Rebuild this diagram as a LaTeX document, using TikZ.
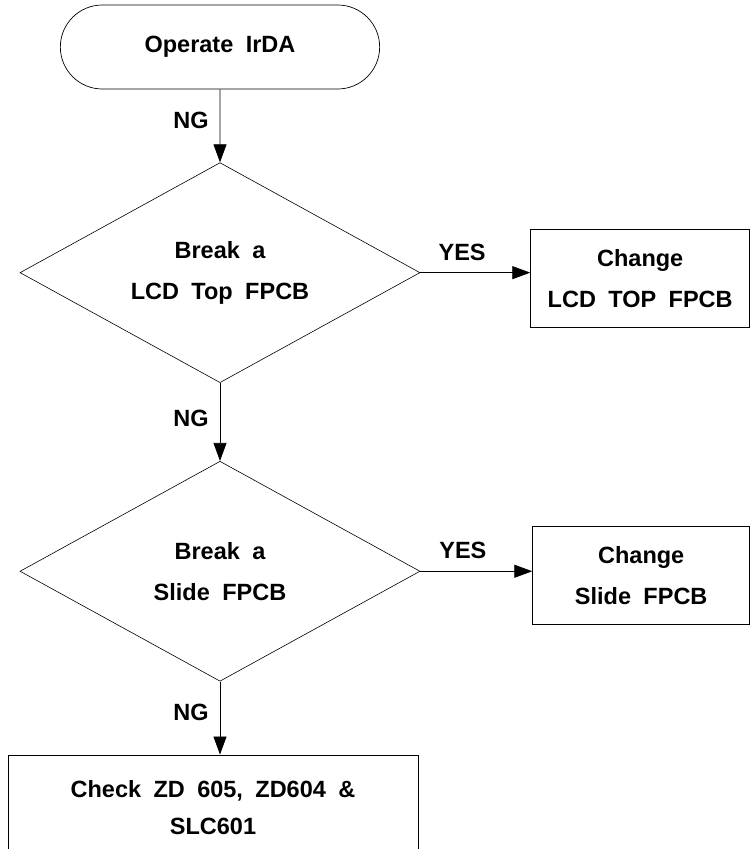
\documentclass[tikz,border=0pt]{standalone}
\usepackage{fontspec}
\setmainfont{Liberation Sans}[WordSpace=1.9]
\usepackage{tikz}
\usetikzlibrary{positioning, arrows.meta, shapes.geometric, shapes.misc}

\begin{document}
\begin{tikzpicture}[
  x=1pt, y=-1pt,
  every node/.style={font=\fontsize{23.5}{41}\selectfont\bfseries, align=center},
  startstop/.style={draw, rounded rectangle, minimum width=326pt, minimum height=84pt, line width=0.7pt},
  decision/.style={draw, diamond, aspect=2, inner sep=0pt, minimum width=400pt, minimum height=220pt, line width=0.6pt},
  process/.style={draw, rectangle, inner sep=0pt, line width=0.8pt},
  lbl/.style={inner sep=0pt},
  arr/.style={-{Triangle[length=18pt, width=13pt]}, line width=0.8pt}
]
  \useasboundingbox (0,0) rectangle (751,849);

  \node[startstop] (start) at (220,47) {Operate IrDA};
  \node[decision, below=73pt of start] (dec1) {Break a\\LCD Top FPCB};
  \node[decision, below=78pt of dec1]  (dec2) {Break a\\Slide FPCB};
  \node[process, minimum width=219pt, minimum height=98pt,
        right=110pt of dec1, yshift=-6pt] (chg1) {Change\\LCD TOP FPCB};
  \node[process, minimum width=217pt, minimum height=98pt,
        right=112pt of dec2, yshift=-4pt] (chg2) {Change\\Slide FPCB};
  \node[process, minimum width=410pt, minimum height=106pt,
        font=\fontsize{23.5}{37}\selectfont\bfseries,
        below=73pt of dec2, xshift=-7pt] (check) {Check ZD 605, ZD604 \&\\SLC601};

  \draw[arr] (start) -- node[lbl, left=11pt, pos=0.42] {NG} (dec1);
  \draw[arr] (dec1) -- node[lbl, left=11pt, pos=0.45] {NG} (dec2);
  \draw[arr] (dec2.south) -- node[lbl, left=11pt, pos=0.42] {NG} (dec2.south |- check.north);
  \draw[arr] (dec1.east) -- node[lbl, above=12pt, pos=0.38] {YES} (dec1.east -| chg1.west);
  \draw[arr] (dec2.east) -- node[lbl, above=12pt, pos=0.38] {YES} (dec2.east -| chg2.west);
\end{tikzpicture}
\end{document}
